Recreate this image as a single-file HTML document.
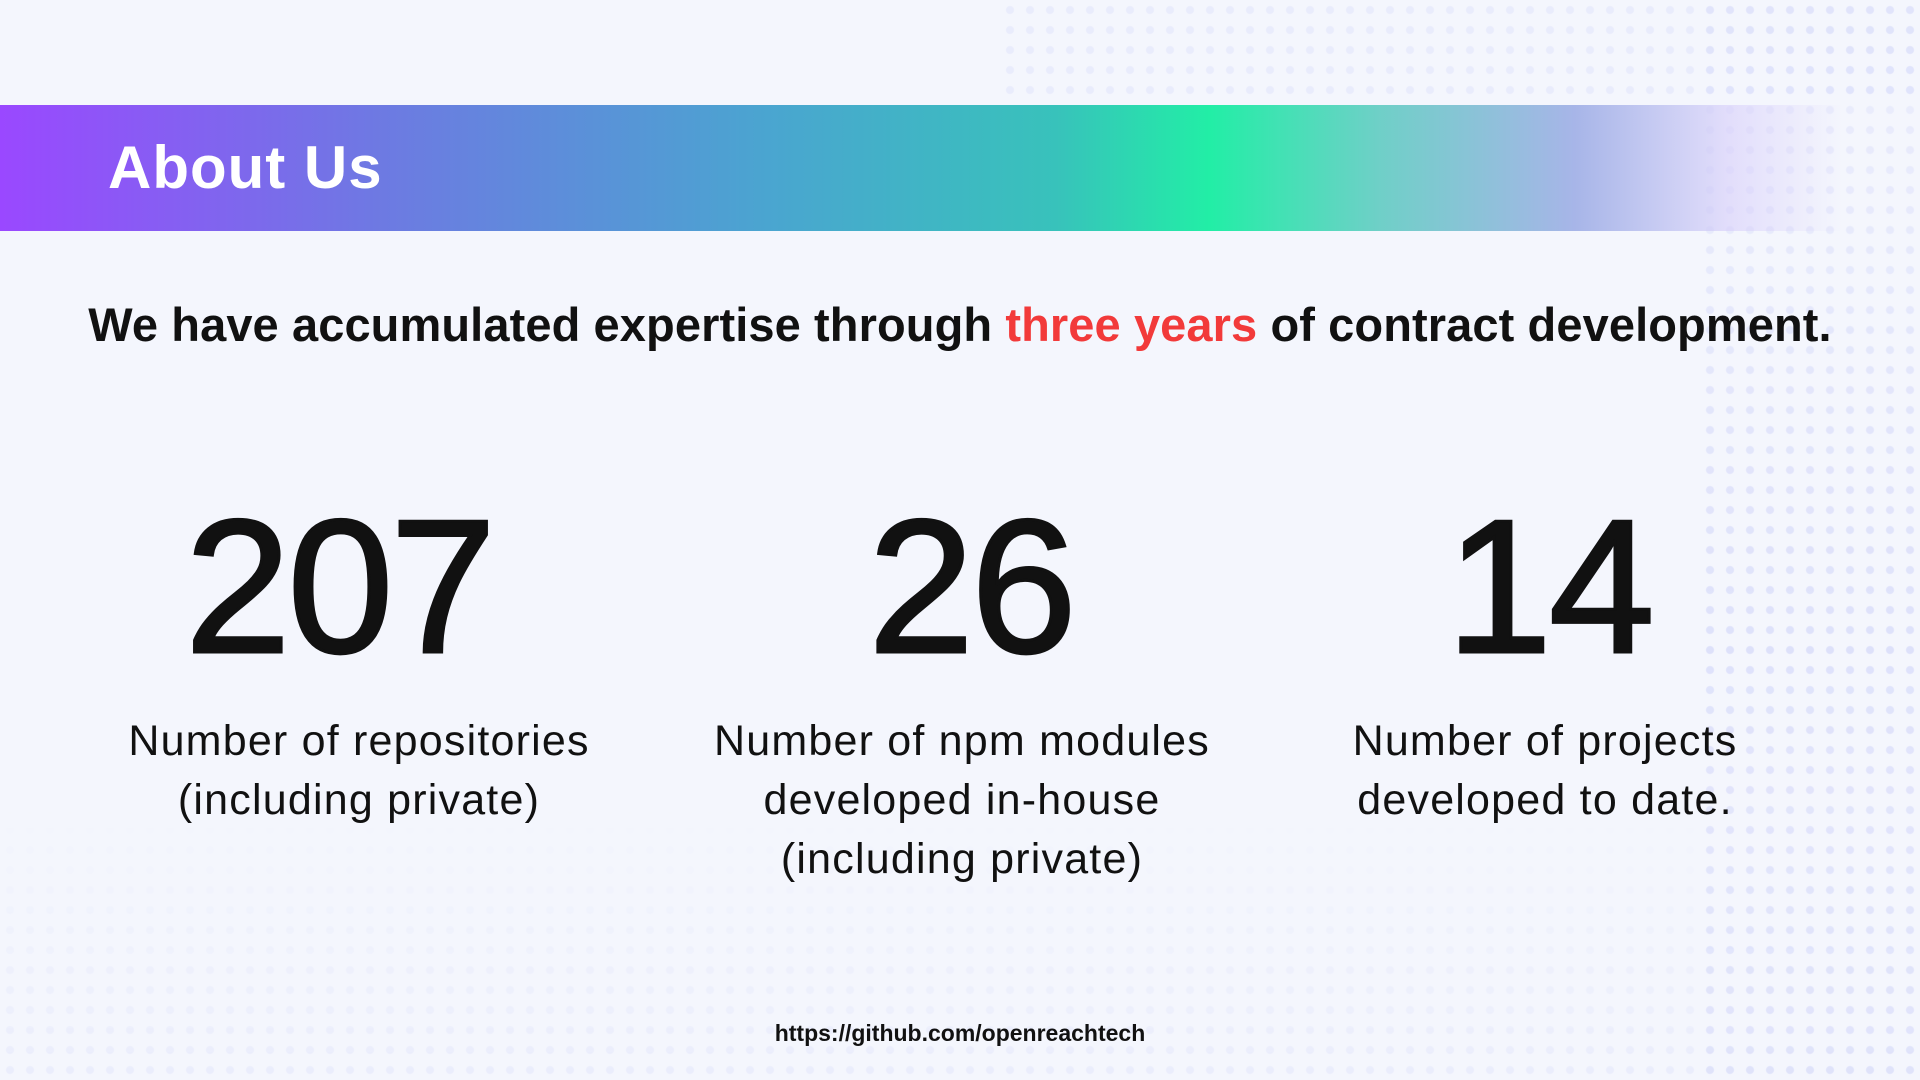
<!DOCTYPE html>
<html><head><meta charset="utf-8">
<style>
html,body{margin:0;padding:0}
body{width:1920px;height:1080px;overflow:hidden;position:relative;background:#f4f6fd;font-family:"Liberation Sans","Noto Sans CJK JP",sans-serif;color:#111}
.dots{position:absolute;background-image:radial-gradient(circle,rgba(120,130,240,0.22) 3.5px,transparent 4.5px);background-size:20px 20px}
.banner{position:absolute;left:0;top:105px;width:1920px;height:126px;background:linear-gradient(90deg,#9a48ff 0%,#6d7ae2 20%,#4aa5d0 40%,#38c2bb 55%,#22eea6 63%,#70cfc8 72%,#a7b5e8 82%,rgba(214,205,250,0.6) 90%,rgba(244,246,253,0) 96%)}
.title{position:absolute;left:108px;top:138px;font-size:60px;font-weight:bold;color:#fff;letter-spacing:1px;line-height:1}
.sub{position:absolute;left:0;width:1920px;top:301px;text-align:center;font-size:47px;font-weight:bold;line-height:1;letter-spacing:0.1px}
.sub span{color:#f23a3a}
.num{position:absolute;width:600px;text-align:center;top:492px;font-size:190px;line-height:1;letter-spacing:-3px;-webkit-text-stroke:3px #111}
.lab{position:absolute;width:600px;text-align:center;top:712px;font-size:43px;line-height:59px;color:#111;letter-spacing:1.2px}
.url{position:absolute;left:0;width:1920px;top:1020px;text-align:center;font-size:23px;font-weight:bold}
</style></head><body>
<div class="dots" style="left:1700px;top:0;width:220px;height:1080px;opacity:.8;-webkit-mask-image:linear-gradient(180deg,rgba(0,0,0,.4),#000 60%,rgba(0,0,0,.5))"></div>
<div class="dots" style="left:1000px;top:0;width:920px;height:105px;opacity:.4"></div>
<div class="dots" style="left:0;top:800px;width:1920px;height:280px;opacity:.35;-webkit-mask-image:linear-gradient(180deg,transparent,#000)"></div>
<div class="banner"></div>
<div class="title">About Us</div>
<div class="sub">We have accumulated expertise through <span>three years</span> of contract development.</div>
<div class="num" style="left:39px">207</div>
<div class="num" style="left:671px">26</div>
<div class="num" style="left:1249px">14</div>
<div class="lab" style="left:59px">Number of repositories<br>(including private)</div>
<div class="lab" style="left:662px">Number of npm modules<br>developed in-house<br>(including private)</div>
<div class="lab" style="left:1245px">Number of projects<br>developed to date.</div>
<div class="url">https://github.com/openreachtech</div>
</body></html>
